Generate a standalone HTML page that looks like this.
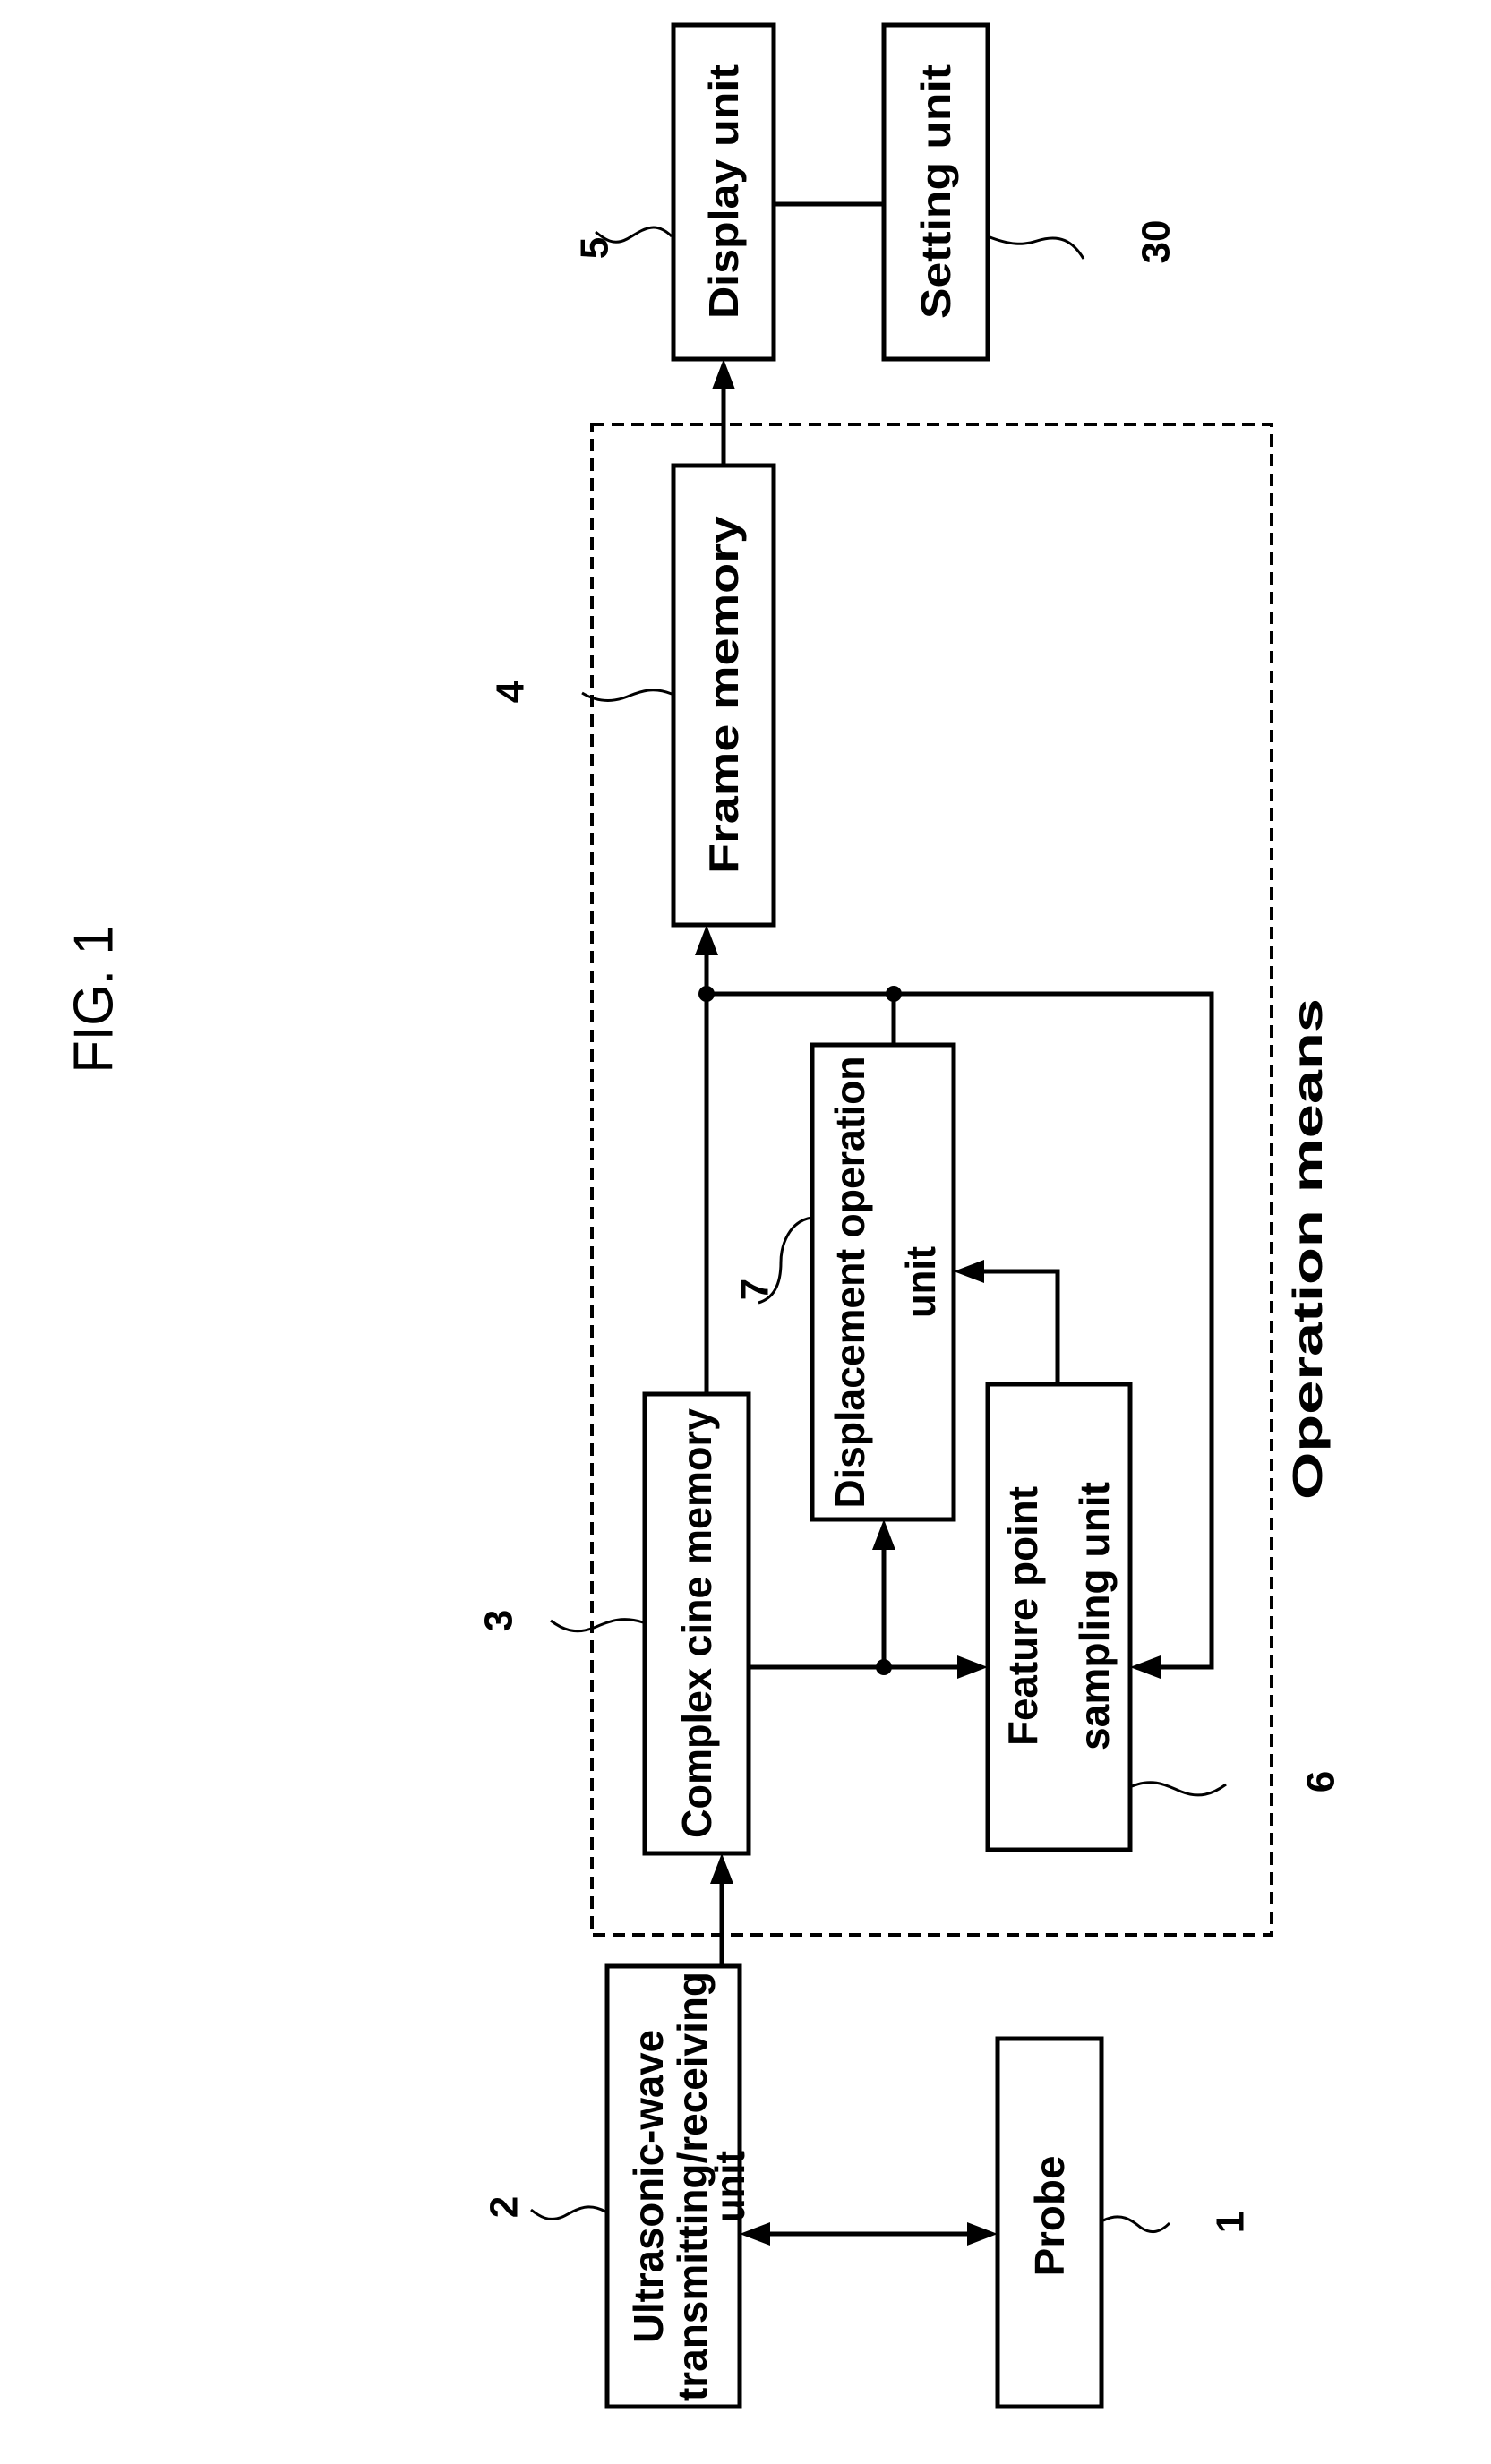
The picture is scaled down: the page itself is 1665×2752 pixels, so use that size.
<!DOCTYPE html>
<html><head><meta charset="utf-8"><style>
html,body{margin:0;padding:0;background:#fff}
svg{display:block}
text{font-family:"Liberation Sans",sans-serif;font-weight:bold;fill:#000}
</style></head><body>
<svg width="1665" height="2752" viewBox="0 0 1665 2752" xmlns="http://www.w3.org/2000/svg">
<g stroke="#000" stroke-width="5" fill="none">
<rect x="752" y="28" width="112" height="373"/>
<rect x="987" y="28" width="116" height="373"/>
<rect x="752" y="520" width="112" height="513"/>
<rect x="907" y="1167" width="158" height="530"/>
<rect x="720" y="1557" width="116" height="513"/>
<rect x="1103" y="1546" width="159" height="520"/>
<rect x="678" y="2196" width="148" height="492"/>
<rect x="1114" y="2277" width="116" height="411"/>
<rect x="661" y="474" width="759" height="1687" stroke-width="4" stroke-dasharray="14,8"/>
<line x1="864" y1="228" x2="987" y2="228"/>
<line x1="808" y1="520" x2="808" y2="420"/>
<line x1="789" y1="1557" x2="789" y2="1050"/>
<polyline points="789,1110 1353,1110 1353,1862 1285,1862"/>
<line x1="998" y1="1110" x2="998" y2="1167"/>
<polyline points="1181,1546 1181,1420 1085,1420"/>
<line x1="836" y1="1862" x2="1085" y2="1862"/>
<line x1="987" y1="1862" x2="987" y2="1717"/>
<line x1="806" y1="2196" x2="806" y2="2090"/>
<line x1="846" y1="2495" x2="1094" y2="2495"/>
</g>
<g fill="#000">
<path d="M808,401 l-13,34 h26z"/>
<path d="M789,1033 l-13,34 h26z"/>
<path d="M1065,1420 l34,-13 v26z"/>
<path d="M987,1697 l-13,34 h26z"/>
<path d="M1103,1862 l-34,-13 v26z"/>
<path d="M1262,1862 l34,-13 v26z"/>
<path d="M806,2070 l-13,34 h26z"/>
<path d="M826,2495 l34,-13 v26z"/>
<path d="M1114,2495 l-34,-13 v26z"/>
<circle cx="789" cy="1110" r="9"/>
<circle cx="998" cy="1110" r="9"/>
<circle cx="987" cy="1862" r="9"/>
</g>
<g stroke="#000" stroke-width="3" fill="none">
<path d="M750,264 c-20,-20 -35,-5 -50,3 c-15,8 -25,0 -35,-8"/>
<path d="M1103,264 c25,10 40,10 55,5 c25,-8 40,0 52,20"/>
<path d="M750,775 c-25,-10 -40,0 -55,5 c-20,6 -35,0 -45,-6"/>
<path d="M718,1812 c-25,-8 -40,0 -55,6 c-20,8 -35,2 -48,-8"/>
<path d="M907,1360 c-25,3 -35,30 -35,50 c0,25 -8,40 -25,45"/>
<path d="M1264,1995 c25,-10 40,0 55,6 c20,8 35,3 50,-8"/>
<path d="M676,2470 c-22,-12 -35,0 -48,6 c-15,6 -25,0 -35,-8"/>
<path d="M1232,2480 c20,-10 32,0 42,8 c12,8 22,5 32,-5"/>
</g>
<g font-size="46">
<text transform="translate(808,214) rotate(-90)" text-anchor="middle" dominant-baseline="central" textLength="284" lengthAdjust="spacingAndGlyphs">Display unit</text>
<text transform="translate(1045,214) rotate(-90)" text-anchor="middle" dominant-baseline="central" textLength="284" lengthAdjust="spacingAndGlyphs">Setting unit</text>
<text transform="translate(808,776) rotate(-90)" text-anchor="middle" dominant-baseline="central" textLength="400" lengthAdjust="spacingAndGlyphs">Frame memory</text>
<text transform="translate(778,1813) rotate(-90)" text-anchor="middle" dominant-baseline="central" textLength="480" lengthAdjust="spacingAndGlyphs">Complex cine memory</text>
<text transform="translate(949,1432) rotate(-90)" text-anchor="middle" dominant-baseline="central" textLength="505" lengthAdjust="spacingAndGlyphs">Displacement operation</text>
<text transform="translate(1028,1432) rotate(-90)" text-anchor="middle" dominant-baseline="central" textLength="80" lengthAdjust="spacingAndGlyphs">unit</text>
<text transform="translate(1142,1805) rotate(-90)" text-anchor="middle" dominant-baseline="central" textLength="290" lengthAdjust="spacingAndGlyphs">Feature point</text>
<text transform="translate(1222,1805) rotate(-90)" text-anchor="middle" dominant-baseline="central" textLength="300" lengthAdjust="spacingAndGlyphs">sampling unit</text>
<text transform="translate(724,2442) rotate(-90)" text-anchor="middle" dominant-baseline="central" textLength="350" lengthAdjust="spacingAndGlyphs">Ultrasonic-wave</text>
<text transform="translate(773,2442) rotate(-90)" text-anchor="middle" dominant-baseline="central" textLength="480" lengthAdjust="spacingAndGlyphs">transmitting/receiving</text>
<text transform="translate(815,2442) rotate(-90)" text-anchor="middle" dominant-baseline="central" textLength="80" lengthAdjust="spacingAndGlyphs">unit</text>
<text transform="translate(1172,2475) rotate(-90)" text-anchor="middle" dominant-baseline="central" textLength="135" lengthAdjust="spacingAndGlyphs">Probe</text>
<text transform="translate(1460,1395) rotate(-90)" text-anchor="middle" dominant-baseline="central" textLength="560" lengthAdjust="spacingAndGlyphs">Operation means</text>
</g>
<g font-size="44">
<text transform="translate(664,277) rotate(-90)" text-anchor="middle" dominant-baseline="central">5</text>
<text transform="translate(1291,270) rotate(-90)" text-anchor="middle" dominant-baseline="central">30</text>
<text transform="translate(570,773) rotate(-90)" text-anchor="middle" dominant-baseline="central">4</text>
<text transform="translate(557,1810) rotate(-90)" text-anchor="middle" dominant-baseline="central">3</text>
<text transform="translate(843,1440) rotate(-90)" text-anchor="middle" dominant-baseline="central">7</text>
<text transform="translate(1475,1990) rotate(-90)" text-anchor="middle" dominant-baseline="central">6</text>
<text transform="translate(563,2465) rotate(-90)" text-anchor="middle" dominant-baseline="central">2</text>
<text transform="translate(1374,2482) rotate(-90)" text-anchor="middle" dominant-baseline="central">1</text>
</g>
<text transform="translate(105,1116) rotate(-90)" text-anchor="middle" dominant-baseline="central" font-size="62" style="font-weight:normal" textLength="165" lengthAdjust="spacingAndGlyphs">FIG. 1</text>
</svg>
</body></html>
